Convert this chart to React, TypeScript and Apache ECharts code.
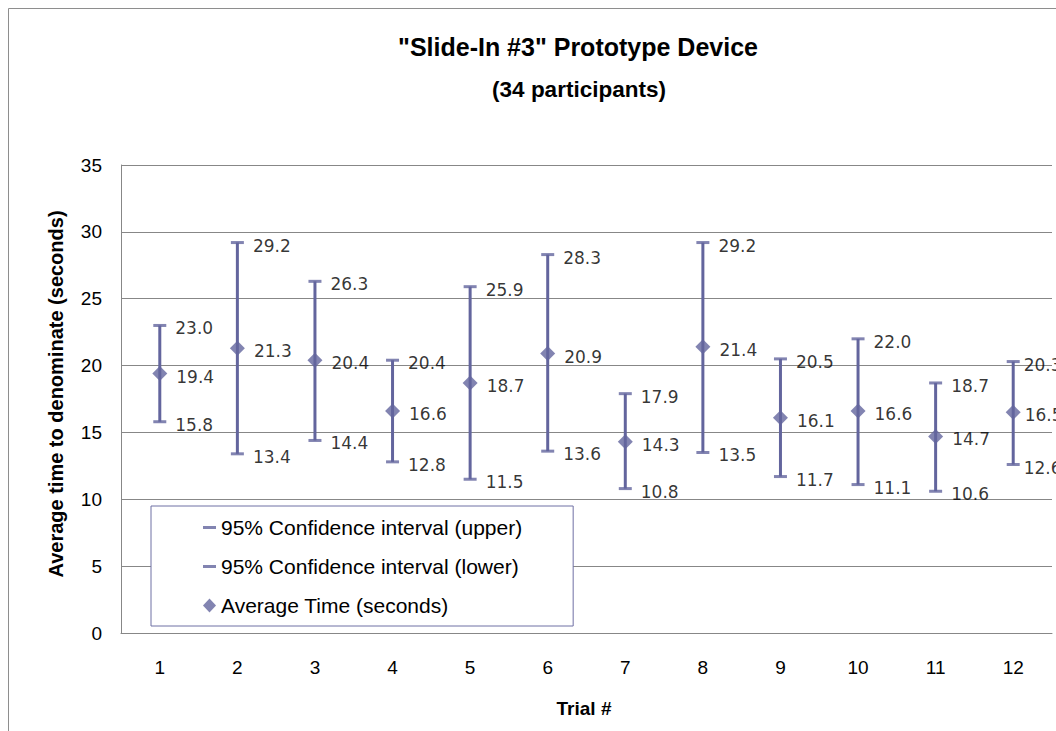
import React, { useEffect, useRef } from "react";
import * as echarts from "echarts";

const titleText = '"Slide-In #3" Prototype Device';
const subtitleText = "(34 participants)";
const xAxisTitle = "Trial #";
const yAxisTitle = "Average time to denominate (seconds)";

const trials = ["1", "2", "3", "4", "5", "6", "7", "8", "9", "10", "11", "12"];
const avgTime = [19.4, 21.3, 20.4, 16.6, 18.7, 20.9, 14.3, 21.4, 16.1, 16.6, 14.7, 16.5];
const ciUpper = [23.0, 29.2, 26.3, 20.4, 25.9, 28.3, 17.9, 29.2, 20.5, 22.0, 18.7, 20.3];
const ciLower = [15.8, 13.4, 14.4, 12.8, 11.5, 13.6, 10.8, 13.5, 11.7, 11.1, 10.6, 12.6];

const seriesUpper = "95% Confidence interval (upper)";
const seriesLower = "95% Confidence interval (lower)";
const seriesAvg = "Average Time (seconds)";

const yMin = 0;
const yMax = 35;
const yStep = 5;

const MARK = "#63659d";
const GRID = "#878787";
const FONT = "Liberation Sans";
const LABEL_FONT = "DejaVu Sans";
const CAP_PATH = "path://M0,0H13V3H0Z";

// the last point's labels sit closer to the mark, as in the reference
function withLabelTweak(values: number[]) {
  return values.map((v, i) =>
    i === values.length - 1 ? { value: v, label: { distance: 4 } } : v
  );
}

export default function App() {
  const ref = useRef<HTMLDivElement>(null);

  useEffect(() => {
    if (!ref.current) return;
    const chart = echarts.init(ref.current, null, { renderer: "svg" });

    const valueLabel = {
      show: true,
      position: "right",
      distance: 9,
      offset: [0, 3],
      color: "#000",
      fontFamily: LABEL_FONT,
      fontSize: 17,
      formatter: (p: any) => Number(p.value).toFixed(1),
    };

    chart.setOption({
      animation: false,
      backgroundColor: "#fff",
      textStyle: { fontFamily: FONT },
      grid: { left: 121, top: 165, width: 931, height: 468, containLabel: false },
      graphic: [
        {
          type: "rect",
          silent: true,
          z: -10,
          shape: { x: 8.5, y: 8.5, width: 1200, height: 900 },
          style: { fill: "none", stroke: "#8e8e8e", lineWidth: 1 },
        },
        {
          type: "text",
          x: 578,
          y: 47,
          style: {
            text: titleText,
            fontFamily: FONT,
            fontWeight: "bold",
            fontSize: 25,
            fill: "#000",
            align: "center",
            verticalAlign: "middle",
          },
        },
        {
          type: "text",
          x: 579,
          y: 89,
          style: {
            text: subtitleText,
            fontFamily: FONT,
            fontWeight: "bold",
            fontSize: 22.5,
            fill: "#000",
            align: "center",
            verticalAlign: "middle",
          },
        },
        {
          type: "text",
          x: 584,
          y: 708,
          style: {
            text: xAxisTitle,
            fontFamily: FONT,
            fontWeight: "bold",
            fontSize: 19,
            fill: "#000",
            align: "center",
            verticalAlign: "middle",
          },
        },
        {
          type: "text",
          x: 56,
          y: 394,
          rotation: Math.PI / 2,
          style: {
            text: yAxisTitle,
            fontFamily: FONT,
            fontWeight: "bold",
            fontSize: 20,
            fill: "#000",
            align: "center",
            verticalAlign: "middle",
          },
        },
      ],
      legend: {
        orient: "vertical",
        left: 151,
        top: 506,
        padding: [11, 51, 10, 52],
        itemGap: 18,
        itemWidth: 13,
        itemHeight: 14,
        backgroundColor: "#fff",
        borderColor: "#6f70a4",
        borderWidth: 1,
        selectedMode: false,
        textStyle: { fontFamily: FONT, fontSize: 21, color: "#000" },
        data: [
          { name: seriesUpper, icon: CAP_PATH },
          { name: seriesLower, icon: CAP_PATH },
          { name: seriesAvg, icon: "diamond" },
        ],
      },
      xAxis: {
        type: "category",
        data: trials,
        boundaryGap: true,
        axisLine: { show: true, lineStyle: { color: GRID, width: 1 } },
        axisTick: { show: false },
        axisLabel: { margin: 25, fontSize: 19, fontFamily: FONT, color: "#000" },
        splitLine: { show: false },
      },
      yAxis: {
        type: "value",
        min: yMin,
        max: yMax,
        interval: yStep,
        axisLine: { show: true, lineStyle: { color: GRID, width: 1 } },
        axisTick: { show: false },
        axisLabel: { margin: 19, fontSize: 19, fontFamily: FONT, color: "#000" },
        splitLine: { show: true, lineStyle: { color: GRID, width: 1 } },
      },
      series: [
        {
          type: "custom",
          name: "range",
          z: 2,
          data: trials.map((_, i) => [i, ciLower[i], ciUpper[i]]),
          encode: { x: 0, y: [1, 2] },
          renderItem: (params: any, api: any) => {
            const idx = api.value(0);
            const lo = api.coord([idx, api.value(1)]);
            const hi = api.coord([idx, api.value(2)]);
            return {
              type: "line",
              shape: { x1: lo[0], y1: lo[1], x2: hi[0], y2: hi[1] },
              style: { stroke: MARK, lineWidth: 3 },
            };
          },
        },
        {
          type: "scatter",
          name: seriesUpper,
          z: 3,
          data: withLabelTweak(ciUpper),
          symbol: CAP_PATH,
          symbolSize: [13, 3],
          itemStyle: { color: MARK },
          label: valueLabel,
        },
        {
          type: "scatter",
          name: seriesLower,
          z: 3,
          data: withLabelTweak(ciLower),
          symbol: CAP_PATH,
          symbolSize: [13, 3],
          itemStyle: { color: MARK },
          label: valueLabel,
        },
        {
          type: "scatter",
          name: seriesAvg,
          z: 4,
          data: withLabelTweak(avgTime),
          symbol: "diamond",
          symbolSize: [15, 15],
          itemStyle: { color: MARK },
          label: valueLabel,
        },
      ],
    });

    return () => chart.dispose();
  }, []);

  return (
    <div
      ref={ref}
      style={{ position: "fixed", left: 0, top: 0, width: 1056, height: 731, background: "#fff" }}
    />
  );
}
